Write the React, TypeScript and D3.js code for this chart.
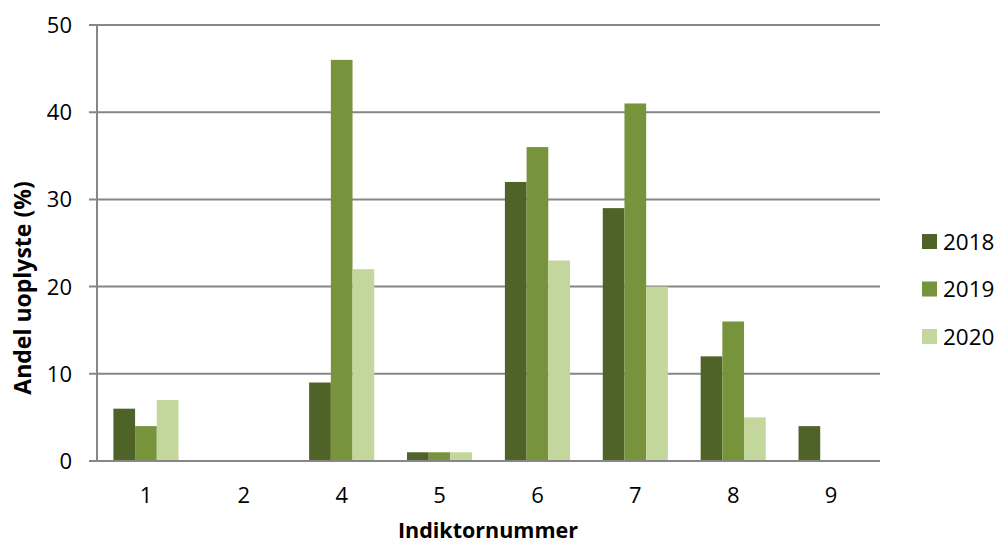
import React from "react";
import * as d3 from "d3";

const categories = ["1", "2", "4", "5", "6", "7", "8", "9"];
const seriesNames = ["2018", "2019", "2020"];
const values2018 = [6, 0, 9, 1, 32, 29, 12, 4];
const values2019 = [4, 0, 46, 1, 36, 41, 16, 0];
const values2020 = [7, 0, 22, 1, 23, 20, 5, 0];
const yTicks = [0, 10, 20, 30, 40, 50];
const colors = ["#4f6228", "#77933c", "#c3d69b"];

const W = 999;
const H = 544;
const left = 97;
const right = 880;
const top = 25;
const bottom = 461;
const FONT = "'Open Sans', 'Liberation Sans', sans-serif";

export default function App() {
  const series = [values2018, values2019, values2020];
  const x0 = d3.scaleBand<string>().domain(categories).range([left, right]).padding(0);
  const bw = x0.bandwidth();
  const gap = bw * 0.335;
  const x1 = d3.scaleBand<string>().domain(seriesNames).range([gap / 2, bw - gap / 2]).padding(0);
  const y = d3.scaleLinear().domain([0, 50]).range([bottom, top]);

  return (
    <svg width={W} height={H} style={{ position: "absolute", left: 0, top: 0, background: "#fff" }} fontFamily={FONT}>
      {yTicks.map((t) => (
        <g key={t}>
          <line x1={left - 8} x2={right} y1={y(t)} y2={y(t)} stroke="#868686" strokeWidth={2} />
          <text x={72} y={y(t)} dy="0.36em" textAnchor="end" fontSize={22} fill="#000">
            {t}
          </text>
        </g>
      ))}
      <line x1={left} x2={left} y1={top} y2={bottom + 1} stroke="#868686" strokeWidth={2} />
      {categories.map((c, i) => (
        <g key={c} transform={`translate(${x0(c)},0)`}>
          {series.map((vals, s) =>
            vals[i] > 0 ? (
              <rect
                key={s}
                x={x1(seriesNames[s])}
                y={y(vals[i])}
                width={x1.bandwidth()}
                height={y(0) - y(vals[i])}
                fill={colors[s]}
              />
            ) : null
          )}
          <text x={bw / 2} y={503} textAnchor="middle" fontSize={22} fill="#000">
            {c}
          </text>
        </g>
      ))}
      <line x1={left} x2={right} y1={bottom} y2={bottom} stroke="#868686" strokeWidth={2} />
      <text x={488} y={538} textAnchor="middle" fontSize={21.5} fontWeight="bold" fill="#000">
        Indiktornummer
      </text>
      <text
        transform={`translate(31,288) rotate(-90)`}
        textAnchor="middle"
        fontSize={23}
        fontWeight="bold"
        fill="#000"
      >
        Andel uoplyste (%)
      </text>
      {seriesNames.map((n, i) => {
        const ly = 241.5 + i * 47.5;
        return (
          <g key={n}>
            <rect x={922} y={ly - 7.5} width={15} height={15} fill={colors[i]} />
            <text x={943} y={ly} dy="0.36em" fontSize={22.5} fill="#000">
              {n}
            </text>
          </g>
        );
      })}
    </svg>
  );
}
